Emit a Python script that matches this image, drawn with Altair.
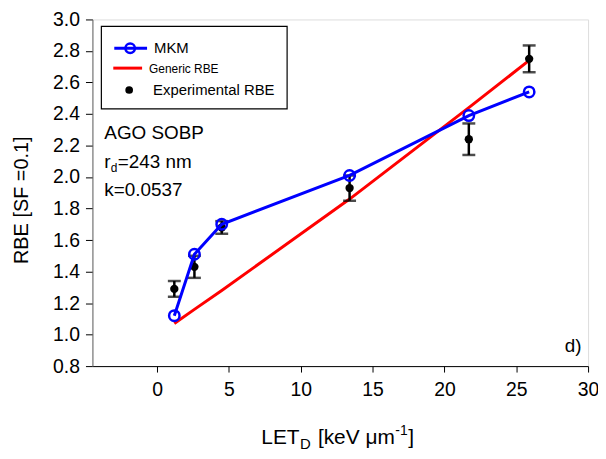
import altair as alt
import pandas as pd

# ---- data ----
let_mkm = [1.2, 2.6, 4.5, 13.4, 21.7, 25.9]
rbe_mkm = [1.12, 1.51, 1.70, 2.01, 2.39, 2.54]

let_gen = [1.2, 2.6, 4.5, 13.4, 21.7, 25.9]
rbe_gen = [1.07, 1.16, 1.28, 1.86, 2.44, 2.74]

let_exp = [1.2, 2.6, 4.5, 13.4, 21.7, 25.9]
rbe_exp = [1.29, 1.43, 1.68, 1.93, 2.24, 2.75]
err_exp = [0.05, 0.07, 0.04, 0.08, 0.10, 0.085]

x_ticks = [0, 5, 10, 15, 20, 25, 30]
y_ticks = [0.8, 1.0, 1.2, 1.4, 1.6, 1.8, 2.0, 2.2, 2.4, 2.6, 2.8, 3.0]

FONT = "Liberation Sans"

mkm = pd.DataFrame({"LET": let_mkm, "RBE": rbe_mkm})
gen = pd.DataFrame({"LET": let_gen, "RBE": rbe_gen})
exp = pd.DataFrame({"LET": let_exp, "RBE": rbe_exp,
                    "lo": [r - e for r, e in zip(rbe_exp, err_exp)],
                    "hi": [r + e for r, e in zip(rbe_exp, err_exp)]})
caps = pd.DataFrame({"LET": let_exp * 2,
                     "RBE": list(exp["lo"]) + list(exp["hi"])})

xs = alt.Scale(domain=[-4.5, 30], nice=False, zero=False)
ys = alt.Scale(domain=[0.8, 3.0], nice=False, zero=False)

xaxis = alt.Axis(values=x_ticks, title=None, grid=False, tickSize=6,
                 labelPadding=9, domainColor="black", tickColor="black",
                 labelFont=FONT, labelFontSize=19.5, labelColor="black",
                 labelOverlap=False, labelFlush=False)
yaxis = alt.Axis(values=y_ticks, format=".1f", title=None, grid=False,
                 tickSize=7, labelPadding=6, domainColor="#666",
                 tickColor="black", labelFont=FONT, labelFontSize=19.5,
                 labelColor="black", labelOverlap=False, labelFlush=False,
                 tickCount=12)


def X():
    return alt.X("LET:Q", scale=xs, axis=xaxis)


def Y(f="RBE"):
    return alt.Y(f"{f}:Q", scale=ys, axis=yaxis)


red = alt.Chart(gen).mark_line(color="#ff0000", strokeWidth=3).encode(
    x=X(), y=Y())

bars = alt.Chart(exp).mark_rule(color="black", strokeWidth=2.5).encode(
    x=X(), y=Y("lo"), y2="hi:Q")
capm = alt.Chart(caps).mark_tick(color="black", orient="horizontal",
                                 size=13, thickness=2.5).encode(x=X(), y=Y())
dots = alt.Chart(exp).mark_point(filled=True, color="black", size=70,
                                 opacity=1).encode(x=X(), y=Y())

blue = alt.Chart(mkm).mark_line(color="#0000ff", strokeWidth=3).encode(
    x=X(), y=Y())
circ = alt.Chart(mkm).mark_point(filled=False, color="#0000ff", size=110,
                                 strokeWidth=2.5, opacity=1).encode(
    x=X(), y=Y())

one = alt.Data(values=[{"a": 0}])


def txt(s, x, y, size=20, align="left", baseline="alphabetic", angle=0,
        color="black"):
    kw = dict(text=s, font=FONT, fontSize=size, align=align,
              baseline=baseline, color=color)
    if angle:
        kw["angle"] = angle
    return alt.Chart(one).mark_text(**kw).encode(
        x=alt.value(x), y=alt.value(y))


def hline(x1, x2, y, color, w):
    return alt.Chart(one).mark_rule(color=color, strokeWidth=w).encode(
        x=alt.value(x1), x2=alt.value(x2), y=alt.value(y))


legend_box = alt.Chart(one).mark_rect(fill="white", stroke="black",
                                      strokeWidth=1.2).encode(
    x=alt.value(9), x2=alt.value(196), y=alt.value(7), y2=alt.value(90))
leg_circ = alt.Chart(one).mark_point(filled=False, color="#0000ff", size=90,
                                     strokeWidth=2.5, opacity=1).encode(
    x=alt.value(38), y=alt.value(29))
leg_dot = alt.Chart(one).mark_point(filled=True, color="black", size=60,
                                    opacity=1).encode(
    x=alt.value(37), y=alt.value(71))

legend = [
    legend_box,
    hline(22, 55, 29, "#0000ff", 3), leg_circ,
    txt("MKM", 62, 29, 15, baseline="middle"),
    hline(21, 50, 49, "#ff0000", 3),
    txt("Generic RBE", 57, 50, 12, baseline="middle"),
    leg_dot,
    txt("Experimental RBE", 61, 71, 15, baseline="middle"),
]

notes = [
    txt("AGO SOBP", 12, 120, 19),
    txt("r", 12, 150, 19),
    txt("d", 18.5, 154, 12),
    txt("=243 nm", 25.5, 150, 19),
    txt("k=0.0537", 12, 178, 19),
    txt("d)", 484, 335, 19, align="center"),
    # y title
    txt("RBE [SF =0.1]", -71, 182, 20, align="center", baseline="middle",
        angle=270),
    # x title with sub/superscripts
    txt("LET", 170, 427, 21),
    txt("D", 209, 432, 15),
    txt("[keV \u03bcm", 227, 427, 21),
    txt("-1", 305, 418, 14),
    txt("]", 318, 427, 21),
]

chart = alt.layer(red, bars, capm, dots, blue, circ, *legend, *notes).properties(
    width=499, height=349,
    autosize=alt.AutoSizeParams(type="none"),
    padding={"left": 85, "top": 10, "right": 10, "bottom": 92},
).configure_view(stroke="black", strokeWidth=1.2).configure(background="white")

chart.save("out.html", embed_options={"renderer": "svg", "actions": False})
